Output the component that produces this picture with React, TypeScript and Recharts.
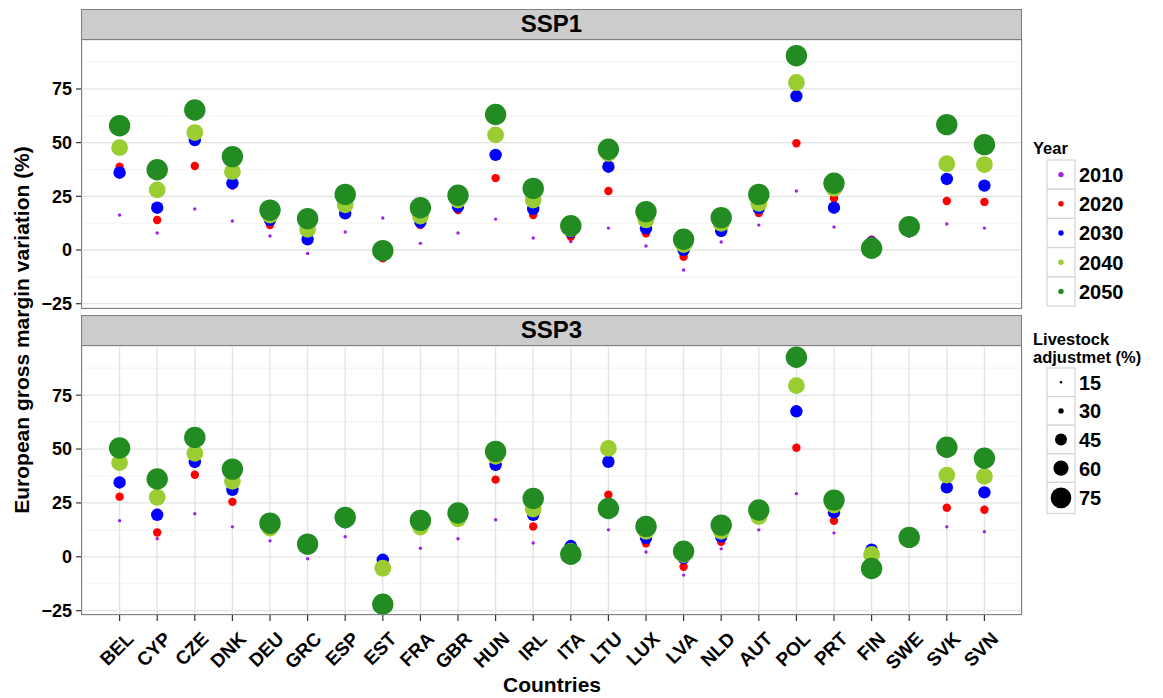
import { ScatterChart, Scatter, XAxis, YAxis, CartesianGrid } from 'recharts'

const countries = ['BEL', 'CYP', 'CZE', 'DNK', 'DEU', 'GRC', 'ESP', 'EST', 'FRA', 'GBR', 'HUN', 'IRL',
  'ITA', 'LTU', 'LUX', 'LVA', 'NLD', 'AUT', 'POL', 'PRT', 'FIN', 'SWE', 'SVK', 'SVN']
const years = ['2010', '2020', '2030', '2040', '2050']
const livestockLevels = [15, 30, 45, 60, 75]
const yTicks = [-25, 0, 25, 50, 75]

// SSP1
const ssp1_2010 = [16.3, 7.9, 19.1, 13.5, 6.5, -1.6, 8.4, 14.9, 3.1, 7.9, 14.4, 5.6, 3.9, 10.2, 1.9, -9.3, 3.7, 11.6, 27.5, 10.7, 1.5, 6.4, 12.1, 10.2]
const ssp1_2020 = [38.8, 14.0, 39.1, 30.0, 11.6, 4.5, 16.5, -3.9, 11.6, 18.6, 33.5, 16.3, 6.2, 27.5, 7.8, -3.1, 8.0, 17.2, 49.7, 24.1, 4.8, 10.0, 22.8, 22.4]
const ssp1_2030 = [36.0, 19.7, 51.2, 31.1, 14.0, 5.0, 17.1, -0.5, 13.0, 20.2, 44.3, 19.1, 8.5, 38.8, 10.1, 0.0, 8.9, 19.5, 71.7, 19.7, 3.5, 10.5, 33.1, 30.0]
const ssp1_2040 = [47.7, 28.0, 54.7, 36.5, 16.3, 9.6, 21.0, -0.3, 15.8, 23.3, 53.6, 23.3, 10.0, 45.0, 14.0, 2.5, 12.4, 21.7, 78.0, 28.7, 2.0, 10.8, 40.2, 39.8]
const ssp1_2050 = [57.9, 37.4, 65.2, 43.5, 18.6, 14.6, 25.9, -0.3, 19.7, 25.5, 63.1, 28.7, 11.3, 46.9, 17.9, 5.0, 15.1, 25.9, 90.5, 31.1, 0.8, 10.9, 58.4, 49.1]

// SSP3
const ssp3_2010 = [16.7, 8.4, 20.0, 13.9, 7.4, -0.9, 9.3, -3.0, 4.0, 8.4, 17.2, 6.4, 3.0, 12.5, 2.2, -8.5, 3.7, 12.5, 29.3, 11.1, 1.5, 8.0, 13.9, 11.6]
const ssp3_2020 = [27.9, 11.3, 38.1, 25.5, 13.5, 3.0, 17.0, -3.0, 14.0, 15.9, 35.8, 14.1, 3.0, 28.8, 6.3, -4.6, 7.0, 20.0, 50.6, 16.7, 2.0, 9.0, 22.8, 21.8]
const ssp3_2030 = [34.5, 19.5, 44.0, 31.1, 14.0, 5.5, 16.0, -1.4, 14.5, 17.5, 42.7, 19.5, 5.0, 44.1, 8.7, -0.6, 9.4, 20.5, 67.5, 20.6, 3.3, 9.0, 32.2, 29.9]
const ssp3_2040 = [43.7, 27.6, 48.0, 35.0, 13.3, 5.0, 17.5, -5.3, 13.8, 17.6, 46.6, 22.1, 2.5, 50.3, 11.8, 1.0, 11.8, 18.7, 79.4, 24.0, 1.1, 9.0, 37.9, 37.3]
const ssp3_2050 = [50.5, 36.1, 55.4, 40.7, 15.6, 5.9, 18.3, -22.0, 16.9, 20.3, 48.9, 27.1, 1.2, 22.4, 14.1, 2.6, 14.7, 21.7, 92.6, 26.3, -5.4, 9.0, 50.8, 45.7]

const ssp1 = [ssp1_2010, ssp1_2020, ssp1_2030, ssp1_2040, ssp1_2050]
const ssp3 = [ssp3_2010, ssp3_2020, ssp3_2030, ssp3_2040, ssp3_2050]

const yearColors = ['#A020F0', '#FF0000', '#0000FF', '#9ACD32', '#228B22']
const yearRadius = [1.7, 4.2, 6.2, 8.4, 10.7]
const legendRadius = [1.2, 2.7, 6, 7.6, 10.3]

const FONT = '"Liberation Sans", Arial, Helvetica, sans-serif'
const Y_DOMAIN: [number, number] = [-27, 97.8]

const toPoints = (vals: number[]) => vals.map((v, i) => ({ x: i + 1, y: v, country: countries[i] }))

const dotShape = (r: number, color: string) => (props: any) =>
  <circle cx={props.cx} cy={props.cy} r={r} fill={color} />

const CountryTick = (props: any) => {
  const { x, y, payload } = props
  const px = x + 15
  const py = y + 17
  return (
    <text x={px} y={py} transform={`rotate(-45 ${px} ${py})`} textAnchor="end"
      fontSize={19} fontWeight="bold" fill="#000" fontFamily={FONT}>
      {countries[payload.value - 1]}
    </text>
  )
}

function Panel({ series, showX, top, height, marginTop, marginBottom }: {
  series: number[][], showX: boolean, top: number, height: number, marginTop: number, marginBottom: number
}) {
  return (
    <div style={{ position: 'absolute', left: 0, top }}>
      <ScatterChart width={1030} height={height} margin={{ top: marginTop, right: 8, bottom: marginBottom, left: 0 }}>
        <CartesianGrid vertical={false} horizontalValues={[-12.5, 12.5, 37.5, 62.5, 87.5]} stroke="#F5F5F5" strokeWidth={1.2} />
        <CartesianGrid stroke="#E3E3E3" strokeWidth={1.3} />
        <XAxis type="number" dataKey="x" domain={[0, 25]} ticks={countries.map((_, i) => i + 1)}
          allowDataOverflow interval={0}
          height={showX ? 83 : 0}
          axisLine={false}
          tickLine={showX ? { stroke: '#333', strokeWidth: 1.2 } : false}
          tickSize={6}
          tick={showX ? <CountryTick /> : false} />
        <YAxis type="number" dataKey="y" domain={Y_DOMAIN} ticks={yTicks} allowDataOverflow width={82}
          interval={0}
          axisLine={false} tickLine={{ stroke: '#333', strokeWidth: 1.2 }} tickSize={6} tickMargin={4}
          tickFormatter={(v: number) => (v < 0 ? '\u2212' + Math.abs(v) : String(v))}
          tick={{ fontSize: 18, fontWeight: 'bold', fill: '#000', fontFamily: FONT }} />
        {series.map((vals, k) => (
          <Scatter key={years[k]} name={years[k]} data={toPoints(vals)} isAnimationActive={false}
            shape={dotShape(yearRadius[k], yearColors[k])} />
        ))}
      </ScatterChart>
    </div>
  )
}

function Strip({ label, top }: { label: string, top: number }) {
  return (
    <div style={{
      position: 'absolute', left: 81, top, width: 941, height: 31, boxSizing: 'border-box',
      background: '#CCCCCC', border: '1.5px solid #7F7F7F', fontFamily: FONT, fontWeight: 'bold',
      fontSize: 24, lineHeight: '28px', textAlign: 'center', color: '#000',
    }}>{label}</div>
  )
}

function Frame({ top }: { top: number }) {
  return (
    <div style={{
      position: 'absolute', left: 81, top, width: 941, height: 270, boxSizing: 'border-box',
      border: '1.5px solid #7F7F7F', pointerEvents: 'none',
    }} />
  )
}

function Legends() {
  const keyX = 1047
  return (
    <svg width={1163} height={698} style={{ position: 'absolute', left: 0, top: 0, pointerEvents: 'none' }}
      fontFamily={FONT} fontWeight="bold">
      <text x={1033} y={154} fontSize={16.5}>Year</text>
      {years.map((yr, i) => {
        const y0 = 160 + i * 29.2
        return (
          <g key={yr}>
            <rect x={keyX} y={y0} width={28} height={29.2} fill="#fff" stroke="#D4D4D4" strokeWidth={1.2} />
            <circle cx={keyX + 14} cy={y0 + 14.6} r={2.7} fill={yearColors[i]} />
            <text x={1079} y={y0 + 22} fontSize={20}>{yr}</text>
          </g>
        )
      })}
      <text x={1033} y={345} fontSize={16.5}>Livestock</text>
      <text x={1033} y={363} fontSize={16.5}>adjustmet (%)</text>
      {livestockLevels.map((lv, i) => {
        const h = i === 4 ? 31 : 28.6
        const y0 = 368 + i * 28.6
        return (
          <g key={lv}>
            <rect x={keyX} y={y0} width={28} height={h} fill="#fff" stroke="#D4D4D4" strokeWidth={1.2} />
            <circle cx={keyX + 14} cy={y0 + h / 2} r={legendRadius[i]} fill="#000" />
            <text x={1079} y={y0 + h / 2 + 7.5} fontSize={20}>{lv}</text>
          </g>
        )
      })}
      <text x={552} y={692} fontSize={21} textAnchor="middle">Countries</text>
      <text x={0} y={0} fontSize={21} textAnchor="middle" transform="translate(29 330) rotate(-90)">
        European gross margin variation (%)
      </text>
    </svg>
  )
}

export default function App() {
  return (
    <div style={{ position: 'absolute', left: 0, top: 0, width: 1163, height: 698, background: '#fff', overflow: 'hidden' }}>
      <Panel series={ssp1} showX={false} top={0} height={322} marginTop={40} marginBottom={14} />
      <Panel series={ssp3} showX={true} top={306} height={392} marginTop={40} marginBottom={0} />
      <Strip label="SSP1" top={9} />
      <Strip label="SSP3" top={315} />
      <Frame top={39} />
      <Frame top={345} />
      <Legends />
    </div>
  )
}
